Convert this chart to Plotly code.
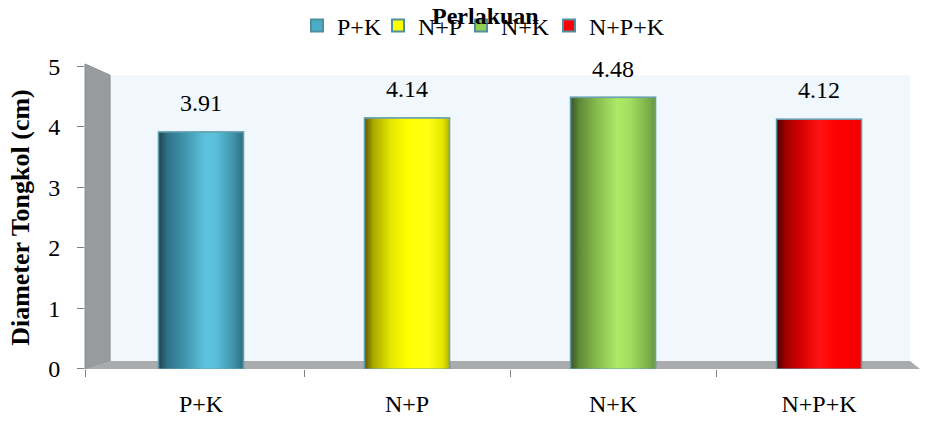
import plotly.graph_objects as go

# Cob diameter per fertiliser treatment
categories = ["P+K", "N+P", "N+K", "N+P+K"]
values = [3.91, 4.14, 4.48, 4.12]
legend_colors = ["#4bacc6", "#ffff00", "#92d050", "#ff0000"]

# horizontal shading across each cylinder (dark left edge, bright highlight right of centre)
shades = [
    [[0, "#1c4350"], [0.1, "#2f7186"], [0.3, "#3f93ab"], [0.55, "#5cc2de"],
     [0.68, "#59bfdb"], [0.88, "#3f93ab"], [1, "#2e6f80"]],
    [[0, "#5c5a00"], [0.1, "#a8a800"], [0.3, "#e4e400"], [0.5, "#ffff00"],
     [0.75, "#ffff14"], [0.92, "#e6e600"], [1, "#b8b800"]],
    [[0, "#3b5526"], [0.1, "#5e8a36"], [0.3, "#86b94e"], [0.55, "#acea68"],
     [0.7, "#a2df60"], [0.9, "#7fb24a"], [1, "#6a9a3e"]],
    [[0, "#4a0000"], [0.1, "#a00000"], [0.3, "#d80000"], [0.5, "#ff1414"],
     [0.7, "#ff0000"], [1, "#f00000"]],
]

# left edge (px) of each legend entry along the top row
legend_left_px = [297, 378, 461, 549]

bar_width = 0.41
x_range = [-0.563, 3.49]
serif = "Liberation Serif"
W, H = 925, 422

fig = go.Figure()

legend_ids = ["legend"] + [f"legend{k}" for k in range(2, len(categories) + 1)]

for i, (cat, val, col) in enumerate(zip(categories, values, legend_colors)):
    fig.add_trace(go.Bar(
        x=[i], y=[val], name=cat, width=bar_width,
        marker=dict(color=col, line=dict(color="#4f8fa0", width=2)),
        legend=legend_ids[i], hoverinfo="skip",
    ))

for i, (val, scale) in enumerate(zip(values, shades)):
    x0, x1 = i - bar_width / 2, i + bar_width / 2
    fig.add_trace(go.Scatter(
        x=[x0, x1, x1, x0, x0], y=[0, 0, val, val, 0],
        mode="lines", fill="toself",
        line=dict(color="#6aa3b3", width=1),
        fillgradient=dict(type="horizontal", colorscale=scale),
        showlegend=False, hoverinfo="skip",
    ))

# value labels above the bars
for i, val in enumerate(values):
    fig.add_annotation(
        x=i, y=val, text=f"{val:.2f}", showarrow=False,
        yanchor="bottom", yshift=14,
        font=dict(family=serif, size=24, color="#000000"),
    )

# legend heading
fig.add_annotation(
    xref="paper", yref="paper", x=0.48, y=1.164, yanchor="middle",
    text="<b>Perlakuan</b>", showarrow=False,
    font=dict(family=serif, size=24, color="#000000"),
)

# pseudo-3D walls: back wall, side wall, floor
fig.add_shape(type="rect", xref="x domain", yref="y domain",
              x0=0.030, x1=0.988, y0=0.026, y1=0.970,
              fillcolor="#f0f7fd", line=dict(width=0), layer="below")
fig.add_shape(type="path", xref="x domain", yref="y domain",
              path="M 0 1.007 L 0.030 0.970 L 0.030 0.026 L 0 0 Z",
              fillcolor="#999c9e", line=dict(color="#8a8d8f", width=1), layer="below")
fig.add_shape(type="path", xref="x domain", yref="y domain",
              path="M 0 0 L 0.030 0.026 L 0.988 0.026 L 1 0 Z",
              fillcolor="#a9abad", line=dict(width=0), layer="below")

legend_style = dict(
    orientation="h", xref="container", yref="container",
    xanchor="left", y=1 - 26 / H, yanchor="middle",
    font=dict(family=serif, size=24, color="#000000"),
    bgcolor="rgba(0,0,0,0)", itemwidth=30, borderwidth=0,
)
legend_layout = {
    lid: dict(legend_style, x=px / W) for lid, px in zip(legend_ids, legend_left_px)
}

fig.update_layout(
    width=W, height=H,
    margin=dict(l=85, r=5, t=64, b=53),
    paper_bgcolor="white", plot_bgcolor="white",
    barmode="overlay",
    font=dict(family=serif, size=24, color="#000000"),
    showlegend=True,
    **legend_layout,
)

fig.update_xaxes(
    range=x_range, tickvals=list(range(len(categories))), ticktext=categories,
    ticks="", showgrid=False, zeroline=False, showline=False,
    ticklabelstandoff=18,
    tickfont=dict(family=serif, size=24),
    minor=dict(tickvals=[x_range[0], 0.5, 1.5, 2.5, 3.5], ticks="outside",
               ticklen=7, tickcolor="#808080", showgrid=False),
)
fig.update_yaxes(
    range=[0, 5], tickvals=[0, 1, 2, 3, 4, 5],
    ticks="outside", ticklen=7, tickcolor="#808080",
    showgrid=False, zeroline=False, showline=False,
    ticklabelstandoff=12,
    tickfont=dict(family=serif, size=24),
    title=dict(text="<b>Diameter Tongkol (cm)</b>", standoff=11,
               font=dict(family=serif, size=26)),
)

fig.write_html("out.html")
